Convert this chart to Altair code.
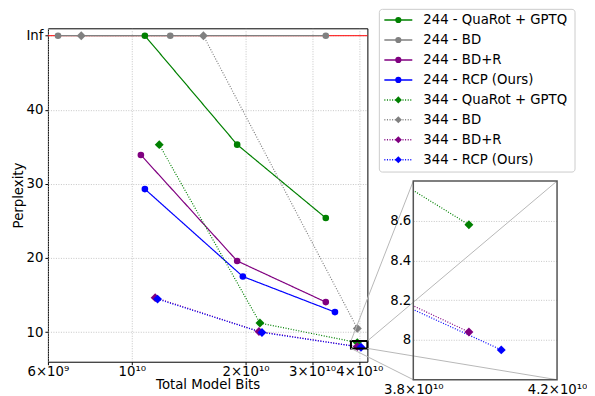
import math
import altair as alt
import pandas as pd

# ---------------- data ----------------
INF_LEVEL = 50  # where "Inf" is drawn on the perplexity axis

series = ["244 - QuaRot + GPTQ", "244 - BD", "244 - BD+R", "244 - RCP (Ours)",
          "344 - QuaRot + GPTQ", "344 - BD", "344 - BD+R", "344 - RCP (Ours)"]

bits_244_quarot = [1.083e10, 1.90e10, 3.26e10]
ppl_244_quarot = [INF_LEVEL, 35.3, 25.4]
bits_244_bd = [6.38e9, 1.264e10, 3.26e10]
ppl_244_bd = [INF_LEVEL, INF_LEVEL, INF_LEVEL]
bits_244_bdr = [1.057e10, 1.90e10, 3.26e10]
ppl_244_bdr = [33.9, 19.6, 14.05]
bits_244_rcp = [1.083e10, 1.967e10, 3.447e10]
ppl_244_rcp = [29.3, 17.5, 12.7]
bits_344_quarot = [1.182e10, 2.183e10, 3.95e10]
ppl_344_quarot = [35.3, 11.22, 8.58]
bits_344_bd = [7.35e9, 1.547e10, 3.95e10]
ppl_344_bd = [INF_LEVEL, INF_LEVEL, 10.5]
bits_344_bdr = [1.153e10, 2.17e10, 3.95e10]
ppl_344_bdr = [14.65, 10.08, 8.04]
bits_344_rcp = [1.17e10, 2.21e10, 4.04e10]
ppl_344_rcp = [14.45, 9.95, 7.95]

all_bits = [bits_244_quarot, bits_244_bd, bits_244_bdr, bits_244_rcp,
            bits_344_quarot, bits_344_bd, bits_344_bdr, bits_344_rcp]
all_ppl = [ppl_244_quarot, ppl_244_bd, ppl_244_bdr, ppl_244_rcp,
           ppl_344_quarot, ppl_344_bd, ppl_344_bdr, ppl_344_rcp]

main_x_ticks = [6e9, 1e10, 2e10, 3e10, 4e10]
main_x_labels = ["6×10⁹", "10¹⁰", "2×10¹⁰", "3×10¹⁰", "4×10¹⁰"]
main_y_ticks = [10, 20, 30, 40, INF_LEVEL]
main_y_labels = ["10", "20", "30", "40", "Inf"]
main_x_domain = [6e9, 4.2e10]
main_y_domain = [6, 51]

inset_x_domain = [3.8e10, 4.2e10]
inset_y_domain = [7.8, 8.8]
inset_x_labels = ["3.8×10¹⁰", "4.2×10¹⁰"]
inset_y_ticks = [8, 8.2, 8.4, 8.6]
inset_y_labels = ["8", "8.2", "8.4", "8.6"]

# ---------------- styles ----------------
colors = ["green", "gray", "purple", "blue"] * 2
dashes = [[1, 0]] * 4 + [[1, 1.6]] * 4
circle_series = series[:4]
diamond_series = series[4:]
CIRCLE_SIZE, DIAMOND_SIZE = 44, 80
LEG_CIRCLE_SIZE, LEG_DIAMOND_SIZE = 38, 50

FONT = "DejaVu Sans"
FS = 13.3

# layout (px, relative to the main plot's top-left corner)
MAIN_W, MAIN_H = 320, 334
INSET_LEFT = 366          # left edge of the inset plot
INSET_TOP = 153           # top edge of the inset plot
INSET_W, INSET_H = 144, 199
LEG_LEFT, LEG_TOP, LEG_W, LEG_H = 332, -19, 196, 163
LEG_ROW0, LEG_STEP = 10.7, 20

rows = []
for s, bl, pl in zip(series, all_bits, all_ppl):
    for b, p in zip(bl, pl):
        rows.append({"series": s, "bits": b, "ppl": p})
df = pd.DataFrame(rows)


def label_expr(values, labels):
    expr = "''"
    for v, l in reversed(list(zip(values, labels))):
        expr = f"abs(datum.value - {v}) < {v} * 0.001 ? '{l}' : ({expr})"
    return expr


color_enc = alt.Color("series:N", scale=alt.Scale(domain=series, range=colors), legend=None)
dash_enc = alt.StrokeDash("series:N", scale=alt.Scale(domain=series, range=dashes), legend=None)


def marker_layers(data, X, Y, clip, csize, dsize):
    out = []
    for subset, shape, size in ((circle_series, "circle", csize), (diamond_series, "diamond", dsize)):
        out.append(alt.Chart(data).transform_filter(
            alt.FieldOneOfPredicate(field="series", oneOf=subset)).mark_point(
            filled=True, opacity=1, clip=clip, shape=shape, size=size).encode(
            x=X, y=Y, color=color_enc))
    return out


def series_layers(X, Y, clip):
    lines = alt.Chart(df).mark_line(clip=clip, strokeWidth=1.2).encode(
        x=X, y=Y, color=color_enc, strokeDash=dash_enc, detail="series:N")
    return [lines] + marker_layers(df, X, Y, clip, CIRCLE_SIZE, DIAMOND_SIZE)


grid_style = dict(grid=True, gridColor="#b8b8b8", gridDash=[1, 1.5], gridWidth=0.8)

# ---------------- main panel ----------------
xs_main = alt.Scale(type="log", domain=main_x_domain, nice=False)
ys_main = alt.Scale(domain=main_y_domain, nice=False, zero=False)
X_main = alt.X("bits:Q", scale=xs_main, axis=alt.Axis(
    values=main_x_ticks, labelExpr=label_expr(main_x_ticks, main_x_labels),
    title="Total Model Bits", labelFlush=False, labelOverlap=False,
    tickSize=3, labelPadding=0, titlePadding=0, **grid_style))
Y_main = alt.Y("ppl:Q", scale=ys_main, axis=alt.Axis(
    values=main_y_ticks, labelExpr=label_expr(main_y_ticks, main_y_labels),
    title="Perplexity", labelOverlap=False, tickSize=3, labelPadding=2, titlePadding=0,
    **grid_style))

inf_rule = alt.Chart(pd.DataFrame({"ppl": [INF_LEVEL]})).mark_rule(
    color="red", strokeWidth=1).encode(y=Y_main)

zoom_box = alt.Chart(pd.DataFrame({
    "bits": [inset_x_domain[0]], "bits2": [inset_x_domain[1]],
    "ppl": [inset_y_domain[0]], "ppl2": [inset_y_domain[1]]})).mark_rect(
    fillOpacity=0, stroke="black", strokeWidth=2).encode(
    x=X_main, x2="bits2", y=Y_main, y2="ppl2")


def main_x_at(px):
    lo, hi = math.log10(main_x_domain[0]), math.log10(main_x_domain[1])
    return 10 ** (lo + px / MAIN_W * (hi - lo))


def main_y_at(py):
    return main_y_domain[1] - py / MAIN_H * (main_y_domain[1] - main_y_domain[0])


conn = pd.DataFrame({
    "bits": [inset_x_domain[0], inset_x_domain[1], inset_x_domain[0], inset_x_domain[1]],
    "ppl": [inset_y_domain[1], inset_y_domain[1], inset_y_domain[0], inset_y_domain[0]],
    "bits2": [main_x_at(INSET_LEFT), main_x_at(INSET_LEFT + INSET_W),
              main_x_at(INSET_LEFT), main_x_at(INSET_LEFT + INSET_W)],
    "ppl2": [main_y_at(INSET_TOP), main_y_at(INSET_TOP),
             main_y_at(INSET_TOP + INSET_H), main_y_at(INSET_TOP + INSET_H)],
})
connectors = alt.Chart(conn).mark_rule(color="#b8b8b8", strokeWidth=1).encode(
    x=X_main, x2="bits2", y=Y_main, y2="ppl2")

main = alt.layer(inf_rule, *series_layers(X_main, Y_main, False), zoom_box, connectors).properties(
    width=MAIN_W, height=MAIN_H, view=alt.ViewBackground(stroke="black", strokeWidth=1))

# ---------------- right panel: inset + legend ----------------
PANEL_H = INSET_TOP + INSET_H
X_in = alt.X("bits:Q", scale=alt.Scale(type="log", domain=inset_x_domain, nice=False), axis=alt.Axis(
    values=inset_x_domain, labelExpr=label_expr(inset_x_domain, inset_x_labels),
    title=None, labelFlush=False, labelOverlap=False, ticks=False, labelPadding=3,
    grid=False, domain=False))
Y_in = alt.Y("ppl:Q", scale=alt.Scale(domain=inset_y_domain, nice=False, zero=False,
                                      range=[PANEL_H, INSET_TOP]), axis=alt.Axis(
    values=inset_y_ticks, labelExpr=label_expr(inset_y_ticks, inset_y_labels),
    title=None, labelOverlap=False, ticks=False, labelPadding=2.5, domain=False, **grid_style))

inset_frame = alt.Chart(pd.DataFrame({
    "bits": [inset_x_domain[0]], "bits2": [inset_x_domain[1]],
    "ppl": [inset_y_domain[0]], "ppl2": [inset_y_domain[1]]})).mark_rect(
    fillOpacity=0, stroke="#555555", strokeWidth=1.5).encode(
    x=X_in, x2="bits2", y=Y_in, y2="ppl2")
inset = alt.layer(*series_layers(X_in, Y_in, True), inset_frame)

leg_df = pd.DataFrame({"series": series})
lx = LEG_LEFT - INSET_LEFT  # legend left edge relative to the right panel
Yl = alt.Y("series:N", sort=series, axis=None, scale=alt.Scale(
    type="point", padding=0,
    range=[LEG_TOP + LEG_ROW0, LEG_TOP + LEG_ROW0 + LEG_STEP * (len(series) - 1)]))
leg_box = alt.Chart(pd.DataFrame({"s": [0]})).mark_rect(
    fillOpacity=0, stroke="#cccccc", strokeWidth=1, cornerRadius=3).encode(
    x=alt.value(lx), x2=alt.value(lx + LEG_W), y=alt.value(LEG_TOP), y2=alt.value(LEG_TOP + LEG_H))
leg_line = alt.Chart(leg_df).mark_rule(strokeWidth=1.5).encode(
    y=Yl, x=alt.value(lx + 5), x2=alt.value(lx + 33), color=color_enc, strokeDash=dash_enc)
leg_pts = marker_layers(leg_df, alt.value(lx + 19), Yl, False, LEG_CIRCLE_SIZE, LEG_DIAMOND_SIZE)
leg_txt = alt.Chart(leg_df).mark_text(align="left", baseline="middle", fontSize=FS, font=FONT,
                                      color="black").encode(
    y=Yl, x=alt.value(lx + 44), text="series:N")
legend = alt.layer(leg_box, leg_line, *leg_pts, leg_txt)

right = alt.layer(inset, legend).resolve_scale(y="independent").properties(
    width=INSET_W, height=PANEL_H)

chart = alt.hconcat(main, right, spacing=INSET_LEFT - MAIN_W, bounds="flush").properties(
    padding={"left": 3, "top": 0, "right": 0, "bottom": 0}
).configure(font=FONT).configure_axis(
    labelFont=FONT, titleFont=FONT, labelFontSize=FS, titleFontSize=FS,
    titleFontWeight="normal", labelColor="black", titleColor="black",
    tickColor="black", domain=False
).configure_view(stroke=None)

chart.save("out.html", embed_options={"renderer": "svg", "actions": False})
